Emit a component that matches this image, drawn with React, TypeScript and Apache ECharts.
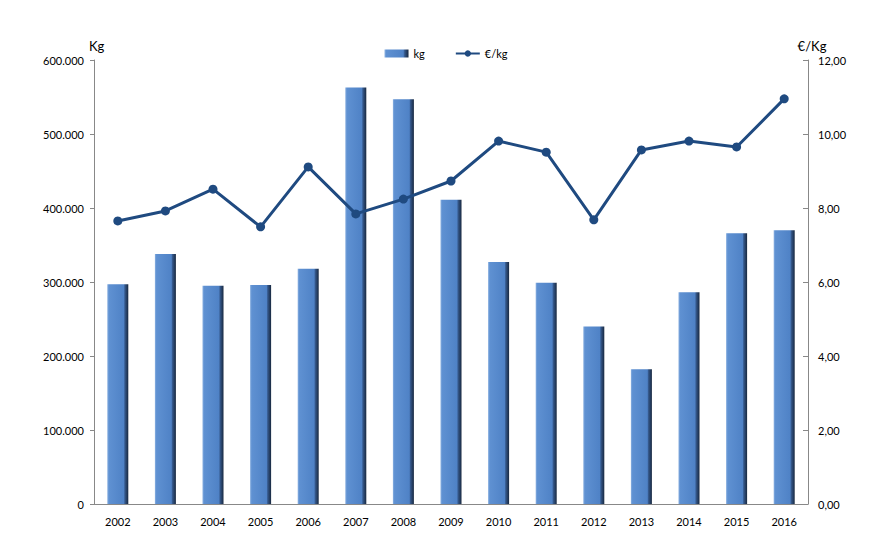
import React, { useEffect, useRef } from "react";
import * as echarts from "echarts";

const years = ["2002","2003","2004","2005","2006","2007","2008","2009","2010","2011","2012","2013","2014","2015","2016"];
const kgValues = [297000,338000,295000,296000,318000,563000,547000,411000,327000,299000,240000,182000,286000,366000,370000];
const pricePerKg = [7.65,7.92,8.51,7.49,9.11,7.84,8.24,8.73,9.81,9.51,7.68,9.57,9.81,9.65,10.95];

const fontFamily = "Lato, 'Open Sans', sans-serif";

const fmtKg = (v: number) => (v === 0 ? "0" : v.toLocaleString("de-DE").replace(/,/g, "."));
const fmtEur = (v: number) => v.toFixed(2).replace(".", ",");

export default function App() {
  const ref = useRef<HTMLDivElement>(null);
  useEffect(() => {
    if (!ref.current) return;
    const chart = echarts.init(ref.current, null, { renderer: "svg" });
    const barColor = new echarts.graphic.LinearGradient(0, 0, 1, 0, [
      { offset: 0, color: "#8ab0e0" },
      { offset: 0.08, color: "#5f91d2" },
      { offset: 0.78, color: "#4f82c6" },
      { offset: 0.84, color: "#34578a" },
      { offset: 1, color: "#18283f" },
    ]);
    chart.setOption({
      animation: false,
      textStyle: { fontFamily },
      legend: {
        top: 43,
        left: "center",
        itemGap: 30,
        itemWidth: 24,
        itemHeight: 8,
        textStyle: { fontSize: 11, color: "#000", fontFamily },
        data: [
          { name: "kg", icon: "rect" },
          { name: "€/kg" },
        ],
      },
      grid: { left: 94, right: 84, top: 60, bottom: 56 },
      xAxis: {
        type: "category",
        data: years,
        axisLine: { lineStyle: { color: "#888" } },
        axisTick: { show: false },
        axisLabel: { color: "#000", fontSize: 11, margin: 12, fontFamily },
      },
      yAxis: [
        {
          type: "value",
          min: 0,
          max: 600000,
          interval: 100000,
          name: "Kg",
          nameLocation: "end",
          nameGap: 8,
          nameTextStyle: { color: "#000", fontSize: 13, align: "left", padding: [0, 0, 0, -5], fontFamily },
          axisLine: { show: true, lineStyle: { color: "#888" } },
          axisTick: { show: true, length: 4, lineStyle: { color: "#888" } },
          splitLine: { show: false },
          axisLabel: { color: "#000", fontSize: 11, margin: 10, formatter: fmtKg, fontFamily },
        },
        {
          type: "value",
          min: 0,
          max: 12,
          interval: 2,
          name: "€/Kg",
          nameLocation: "end",
          nameGap: 8,
          nameTextStyle: { color: "#000", fontSize: 13, align: "center", padding: [0, 0, 0, 8], fontFamily },
          axisLine: { show: true, lineStyle: { color: "#888" } },
          axisTick: { show: true, inside: true, length: 5, lineStyle: { color: "#888" } },
          splitLine: { show: false },
          axisLabel: { color: "#000", fontSize: 11, margin: 10, formatter: fmtEur, fontFamily },
        },
      ],
      series: [
        {
          name: "kg",
          type: "bar",
          data: kgValues,
          barWidth: 21,
          itemStyle: { color: barColor },
        },
        {
          name: "€/kg",
          type: "line",
          yAxisIndex: 1,
          data: pricePerKg,
          symbol: "circle",
          symbolSize: 9,
          lineStyle: { color: "#1f4a80", width: 3 },
          itemStyle: { color: "#1f4a80" },
        },
      ],
    });
    return () => chart.dispose();
  }, []);
  return (
    <div
      ref={ref}
      style={{ position: "absolute", left: 0, top: 0, width: 892, height: 560, background: "#fff" }}
    />
  );
}
